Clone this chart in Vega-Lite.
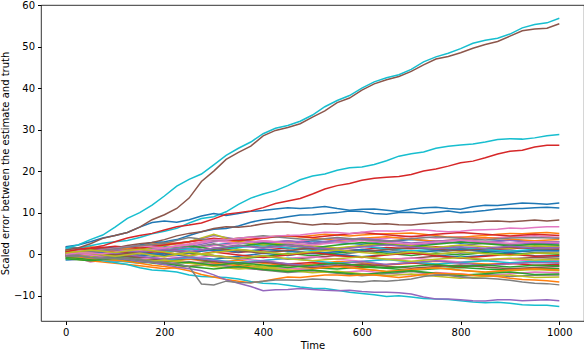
{
"$schema":"https://vega.github.io/schema/vega-lite/v6.json",
"width":543,"height":316,
"autosize":{"type":"none"},
"padding":{"left":41,"top":5,"right":0,"bottom":29},
"config":{"view":{"stroke":"#000","strokeWidth":0.8},"font":"DejaVu Sans"},
"data":{"values":[
{"s":0,"t":0,"v":0.5},{"s":0,"t":50,"v":0.8},{"s":0,"t":100,"v":0.3},{"s":0,"t":150,"v":1.2},{"s":0,"t":200,"v":1.8},{"s":0,"t":250,"v":1.0},{"s":0,"t":300,"v":2.2},{"s":0,"t":350,"v":2.8},{"s":0,"t":400,"v":2.0},{"s":0,"t":450,"v":2.5},{"s":0,"t":500,"v":3.2},{"s":0,"t":550,"v":2.8},{"s":0,"t":600,"v":2.4},{"s":0,"t":650,"v":3.0},{"s":0,"t":700,"v":3.5},{"s":0,"t":750,"v":3.1},{"s":0,"t":800,"v":2.6},{"s":0,"t":850,"v":3.0},{"s":0,"t":900,"v":3.4},{"s":0,"t":950,"v":2.9},{"s":0,"t":1000,"v":3.0},
{"s":1,"t":0,"v":-0.3},{"s":1,"t":50,"v":-0.8},{"s":1,"t":100,"v":-0.2},{"s":1,"t":150,"v":-1.0},{"s":1,"t":200,"v":-1.8},{"s":1,"t":250,"v":-1.2},{"s":1,"t":300,"v":-2.0},{"s":1,"t":350,"v":-1.5},{"s":1,"t":400,"v":-2.2},{"s":1,"t":450,"v":-2.8},{"s":1,"t":500,"v":-2.4},{"s":1,"t":550,"v":-1.8},{"s":1,"t":600,"v":-2.1},{"s":1,"t":650,"v":-2.6},{"s":1,"t":700,"v":-2.2},{"s":1,"t":750,"v":-1.7},{"s":1,"t":800,"v":-2.0},{"s":1,"t":850,"v":-2.4},{"s":1,"t":900,"v":-2.3},{"s":1,"t":950,"v":-1.9},{"s":1,"t":1000,"v":-2.0},
{"s":2,"t":0,"v":0.2},{"s":2,"t":50,"v":-0.5},{"s":2,"t":100,"v":-1.0},{"s":2,"t":150,"v":-0.6},{"s":2,"t":200,"v":-1.5},{"s":2,"t":250,"v":-2.2},{"s":2,"t":300,"v":-1.8},{"s":2,"t":350,"v":-2.5},{"s":2,"t":400,"v":-3.0},{"s":2,"t":450,"v":-2.7},{"s":2,"t":500,"v":-3.3},{"s":2,"t":550,"v":-3.6},{"s":2,"t":600,"v":-3.1},{"s":2,"t":650,"v":-3.4},{"s":2,"t":700,"v":-3.9},{"s":2,"t":750,"v":-3.5},{"s":2,"t":800,"v":-3.2},{"s":2,"t":850,"v":-3.6},{"s":2,"t":900,"v":-3.8},{"s":2,"t":950,"v":-3.4},{"s":2,"t":1000,"v":-3.5},
{"s":3,"t":0,"v":-0.5},{"s":3,"t":50,"v":0.2},{"s":3,"t":100,"v":0.6},{"s":3,"t":150,"v":0.1},{"s":3,"t":200,"v":0.8},{"s":3,"t":250,"v":1.3},{"s":3,"t":300,"v":0.9},{"s":3,"t":350,"v":0.4},{"s":3,"t":400,"v":1.0},{"s":3,"t":450,"v":1.5},{"s":3,"t":500,"v":1.2},{"s":3,"t":550,"v":0.7},{"s":3,"t":600,"v":1.1},{"s":3,"t":650,"v":1.6},{"s":3,"t":700,"v":1.3},{"s":3,"t":750,"v":1.8},{"s":3,"t":800,"v":1.4},{"s":3,"t":850,"v":1.0},{"s":3,"t":900,"v":1.3},{"s":3,"t":950,"v":1.7},{"s":3,"t":1000,"v":1.5},
{"s":4,"t":0,"v":1.0},{"s":4,"t":50,"v":1.4},{"s":4,"t":100,"v":0.8},{"s":4,"t":150,"v":1.6},{"s":4,"t":200,"v":2.4},{"s":4,"t":250,"v":3.0},{"s":4,"t":300,"v":4.5},{"s":4,"t":350,"v":3.5},{"s":4,"t":400,"v":2.8},{"s":4,"t":450,"v":3.2},{"s":4,"t":500,"v":2.5},{"s":4,"t":550,"v":2.9},{"s":4,"t":600,"v":3.4},{"s":4,"t":650,"v":2.8},{"s":4,"t":700,"v":2.2},{"s":4,"t":750,"v":2.6},{"s":4,"t":800,"v":3.0},{"s":4,"t":850,"v":2.7},{"s":4,"t":900,"v":2.3},{"s":4,"t":950,"v":2.6},{"s":4,"t":1000,"v":2.5},
{"s":5,"t":0,"v":0.8},{"s":5,"t":50,"v":0.3},{"s":5,"t":100,"v":0.9},{"s":5,"t":150,"v":0.4},{"s":5,"t":200,"v":-0.2},{"s":5,"t":250,"v":0.5},{"s":5,"t":300,"v":-0.3},{"s":5,"t":350,"v":-0.9},{"s":5,"t":400,"v":-0.4},{"s":5,"t":450,"v":-1.2},{"s":5,"t":500,"v":-0.8},{"s":5,"t":550,"v":-0.3},{"s":5,"t":600,"v":-0.7},{"s":5,"t":650,"v":-1.3},{"s":5,"t":700,"v":-1.0},{"s":5,"t":750,"v":-0.5},{"s":5,"t":800,"v":-0.9},{"s":5,"t":850,"v":-1.4},{"s":5,"t":900,"v":-1.1},{"s":5,"t":950,"v":-0.8},{"s":5,"t":1000,"v":-1.0},
{"s":6,"t":0,"v":0.0},{"s":6,"t":50,"v":-1.9},{"s":6,"t":100,"v":-1.0},{"s":6,"t":150,"v":-0.5},{"s":6,"t":200,"v":0.4},{"s":6,"t":250,"v":1.2},{"s":6,"t":300,"v":2.0},{"s":6,"t":350,"v":2.6},{"s":6,"t":400,"v":3.2},{"s":6,"t":450,"v":2.8},{"s":6,"t":500,"v":3.5},{"s":6,"t":550,"v":3.9},{"s":6,"t":600,"v":3.4},{"s":6,"t":650,"v":3.8},{"s":6,"t":700,"v":4.3},{"s":6,"t":750,"v":3.9},{"s":6,"t":800,"v":4.2},{"s":6,"t":850,"v":3.8},{"s":6,"t":900,"v":4.1},{"s":6,"t":950,"v":4.4},{"s":6,"t":1000,"v":4.0},
{"s":7,"t":0,"v":-0.8},{"s":7,"t":50,"v":-0.3},{"s":7,"t":100,"v":0.4},{"s":7,"t":150,"v":-0.2},{"s":7,"t":200,"v":0.6},{"s":7,"t":250,"v":1.5},{"s":7,"t":300,"v":2.5},{"s":7,"t":350,"v":1.2},{"s":7,"t":400,"v":0.5},{"s":7,"t":450,"v":1.0},{"s":7,"t":500,"v":0.3},{"s":7,"t":550,"v":-0.2},{"s":7,"t":600,"v":0.6},{"s":7,"t":650,"v":1.1},{"s":7,"t":700,"v":0.4},{"s":7,"t":750,"v":0.9},{"s":7,"t":800,"v":0.2},{"s":7,"t":850,"v":0.7},{"s":7,"t":900,"v":1.0},{"s":7,"t":950,"v":0.4},{"s":7,"t":1000,"v":0.5},
{"s":8,"t":0,"v":0.4},{"s":8,"t":50,"v":0.0},{"s":8,"t":100,"v":-0.8},{"s":8,"t":150,"v":-1.5},{"s":8,"t":200,"v":-1.0},{"s":8,"t":250,"v":-2.0},{"s":8,"t":300,"v":-2.8},{"s":8,"t":350,"v":-2.2},{"s":8,"t":400,"v":-3.0},{"s":8,"t":450,"v":-3.6},{"s":8,"t":500,"v":-3.2},{"s":8,"t":550,"v":-2.8},{"s":8,"t":600,"v":-3.5},{"s":8,"t":650,"v":-4.2},{"s":8,"t":700,"v":-3.8},{"s":8,"t":750,"v":-3.3},{"s":8,"t":800,"v":-3.9},{"s":8,"t":850,"v":-4.4},{"s":8,"t":900,"v":-4.0},{"s":8,"t":950,"v":-3.7},{"s":8,"t":1000,"v":-4.0},
{"s":9,"t":0,"v":1.5},{"s":9,"t":50,"v":1.0},{"s":9,"t":100,"v":1.8},{"s":9,"t":150,"v":1.2},{"s":9,"t":200,"v":0.5},{"s":9,"t":250,"v":1.3},{"s":9,"t":300,"v":0.8},{"s":9,"t":350,"v":1.6},{"s":9,"t":400,"v":2.1},{"s":9,"t":450,"v":1.5},{"s":9,"t":500,"v":0.9},{"s":9,"t":550,"v":1.4},{"s":9,"t":600,"v":1.9},{"s":9,"t":650,"v":1.3},{"s":9,"t":700,"v":0.8},{"s":9,"t":750,"v":1.2},{"s":9,"t":800,"v":1.6},{"s":9,"t":850,"v":1.1},{"s":9,"t":900,"v":0.7},{"s":9,"t":950,"v":1.2},{"s":9,"t":1000,"v":1.0},
{"s":10,"t":0,"v":-1.2},{"s":10,"t":50,"v":-0.5},{"s":10,"t":100,"v":0.3},{"s":10,"t":150,"v":-0.4},{"s":10,"t":200,"v":0.2},{"s":10,"t":250,"v":-0.6},{"s":10,"t":300,"v":-1.2},{"s":10,"t":350,"v":-0.5},{"s":10,"t":400,"v":0.2},{"s":10,"t":450,"v":-0.3},{"s":10,"t":500,"v":0.5},{"s":10,"t":550,"v":0.0},{"s":10,"t":600,"v":-0.6},{"s":10,"t":650,"v":-0.1},{"s":10,"t":700,"v":0.4},{"s":10,"t":750,"v":-0.2},{"s":10,"t":800,"v":-0.7},{"s":10,"t":850,"v":-0.3},{"s":10,"t":900,"v":0.2},{"s":10,"t":950,"v":-0.4},{"s":10,"t":1000,"v":-0.5},
{"s":11,"t":0,"v":1.2},{"s":11,"t":50,"v":1.8},{"s":11,"t":100,"v":1.0},{"s":11,"t":150,"v":2.0},{"s":11,"t":200,"v":2.8},{"s":11,"t":250,"v":2.2},{"s":11,"t":300,"v":3.5},{"s":11,"t":350,"v":3.0},{"s":11,"t":400,"v":3.8},{"s":11,"t":450,"v":4.5},{"s":11,"t":500,"v":3.9},{"s":11,"t":550,"v":3.3},{"s":11,"t":600,"v":3.8},{"s":11,"t":650,"v":4.2},{"s":11,"t":700,"v":3.6},{"s":11,"t":750,"v":3.1},{"s":11,"t":800,"v":3.5},{"s":11,"t":850,"v":4.0},{"s":11,"t":900,"v":3.6},{"s":11,"t":950,"v":3.2},{"s":11,"t":1000,"v":3.5},
{"s":12,"t":0,"v":-0.2},{"s":12,"t":50,"v":0.4},{"s":12,"t":100,"v":-0.3},{"s":12,"t":150,"v":-1.0},{"s":12,"t":200,"v":-0.4},{"s":12,"t":250,"v":0.3},{"s":12,"t":300,"v":-0.5},{"s":12,"t":350,"v":-1.2},{"s":12,"t":400,"v":-0.6},{"s":12,"t":450,"v":0.2},{"s":12,"t":500,"v":-0.4},{"s":12,"t":550,"v":0.3},{"s":12,"t":600,"v":0.8},{"s":12,"t":650,"v":0.2},{"s":12,"t":700,"v":-0.3},{"s":12,"t":750,"v":0.3},{"s":12,"t":800,"v":-0.2},{"s":12,"t":850,"v":0.4},{"s":12,"t":900,"v":-0.1},{"s":12,"t":950,"v":0.3},{"s":12,"t":1000,"v":0.0},
{"s":13,"t":0,"v":0.3},{"s":13,"t":50,"v":-0.4},{"s":13,"t":100,"v":0.2},{"s":13,"t":150,"v":-0.6},{"s":13,"t":200,"v":-1.3},{"s":13,"t":250,"v":-0.8},{"s":13,"t":300,"v":-1.6},{"s":13,"t":350,"v":-2.2},{"s":13,"t":400,"v":-1.7},{"s":13,"t":450,"v":-2.4},{"s":13,"t":500,"v":-2.0},{"s":13,"t":550,"v":-2.6},{"s":13,"t":600,"v":-3.0},{"s":13,"t":650,"v":-2.5},{"s":13,"t":700,"v":-2.1},{"s":13,"t":750,"v":-2.7},{"s":13,"t":800,"v":-3.1},{"s":13,"t":850,"v":-2.6},{"s":13,"t":900,"v":-2.2},{"s":13,"t":950,"v":-2.7},{"s":13,"t":1000,"v":-2.5},
{"s":14,"t":0,"v":-0.6},{"s":14,"t":50,"v":0.1},{"s":14,"t":100,"v":0.8},{"s":14,"t":150,"v":1.5},{"s":14,"t":200,"v":0.9},{"s":14,"t":250,"v":1.8},{"s":14,"t":300,"v":3.0},{"s":14,"t":350,"v":3.6},{"s":14,"t":400,"v":2.5},{"s":14,"t":450,"v":3.2},{"s":14,"t":500,"v":2.7},{"s":14,"t":550,"v":3.4},{"s":14,"t":600,"v":3.8},{"s":14,"t":650,"v":3.3},{"s":14,"t":700,"v":2.7},{"s":14,"t":750,"v":3.1},{"s":14,"t":800,"v":3.5},{"s":14,"t":850,"v":2.9},{"s":14,"t":900,"v":3.3},{"s":14,"t":950,"v":2.8},{"s":14,"t":1000,"v":3.0},
{"s":15,"t":0,"v":1.0},{"s":15,"t":50,"v":0.4},{"s":15,"t":100,"v":-0.2},{"s":15,"t":150,"v":-0.8},{"s":15,"t":200,"v":-1.5},{"s":15,"t":250,"v":-1.0},{"s":15,"t":300,"v":-1.8},{"s":15,"t":350,"v":-2.3},{"s":15,"t":400,"v":-1.9},{"s":15,"t":450,"v":-2.6},{"s":15,"t":500,"v":-3.2},{"s":15,"t":550,"v":-2.8},{"s":15,"t":600,"v":-2.4},{"s":15,"t":650,"v":-2.9},{"s":15,"t":700,"v":-3.4},{"s":15,"t":750,"v":-3.0},{"s":15,"t":800,"v":-2.6},{"s":15,"t":850,"v":-3.1},{"s":15,"t":900,"v":-3.5},{"s":15,"t":950,"v":-3.2},{"s":15,"t":1000,"v":-3.0},
{"s":16,"t":0,"v":-1.5},{"s":16,"t":50,"v":-1.0},{"s":16,"t":100,"v":-1.8},{"s":16,"t":150,"v":-1.2},{"s":16,"t":200,"v":-0.5},{"s":16,"t":250,"v":-1.0},{"s":16,"t":300,"v":-0.4},{"s":16,"t":350,"v":-1.1},{"s":16,"t":400,"v":-1.6},{"s":16,"t":450,"v":-1.0},{"s":16,"t":500,"v":-0.6},{"s":16,"t":550,"v":-1.2},{"s":16,"t":600,"v":-1.7},{"s":16,"t":650,"v":-1.3},{"s":16,"t":700,"v":-0.9},{"s":16,"t":750,"v":-1.4},{"s":16,"t":800,"v":-1.9},{"s":16,"t":850,"v":-1.5},{"s":16,"t":900,"v":-1.2},{"s":16,"t":950,"v":-1.7},{"s":16,"t":1000,"v":-1.5},
{"s":17,"t":0,"v":0.6},{"s":17,"t":50,"v":1.2},{"s":17,"t":100,"v":0.7},{"s":17,"t":150,"v":1.5},{"s":17,"t":200,"v":1.0},{"s":17,"t":250,"v":0.3},{"s":17,"t":300,"v":1.4},{"s":17,"t":350,"v":2.2},{"s":17,"t":400,"v":1.6},{"s":17,"t":450,"v":2.4},{"s":17,"t":500,"v":1.8},{"s":17,"t":550,"v":1.3},{"s":17,"t":600,"v":1.9},{"s":17,"t":650,"v":2.5},{"s":17,"t":700,"v":2.0},{"s":17,"t":750,"v":1.5},{"s":17,"t":800,"v":2.1},{"s":17,"t":850,"v":2.6},{"s":17,"t":900,"v":2.2},{"s":17,"t":950,"v":1.8},{"s":17,"t":1000,"v":2.0},
{"s":18,"t":0,"v":-1.0},{"s":18,"t":50,"v":-0.4},{"s":18,"t":100,"v":0.5},{"s":18,"t":150,"v":1.2},{"s":18,"t":200,"v":2.0},{"s":18,"t":250,"v":3.0},{"s":18,"t":300,"v":4.8},{"s":18,"t":350,"v":3.0},{"s":18,"t":400,"v":2.2},{"s":18,"t":450,"v":2.8},{"s":18,"t":500,"v":2.0},{"s":18,"t":550,"v":1.5},{"s":18,"t":600,"v":2.1},{"s":18,"t":650,"v":2.6},{"s":18,"t":700,"v":2.0},{"s":18,"t":750,"v":1.6},{"s":18,"t":800,"v":2.2},{"s":18,"t":850,"v":1.8},{"s":18,"t":900,"v":1.4},{"s":18,"t":950,"v":2.0},{"s":18,"t":1000,"v":1.8},
{"s":19,"t":0,"v":-1.4},{"s":19,"t":50,"v":-1.0},{"s":19,"t":100,"v":-1.6},{"s":19,"t":150,"v":-2.2},{"s":19,"t":200,"v":-1.5},{"s":19,"t":250,"v":-0.8},{"s":19,"t":300,"v":-1.4},{"s":19,"t":350,"v":-2.0},{"s":19,"t":400,"v":-1.5},{"s":19,"t":450,"v":-1.0},{"s":19,"t":500,"v":-1.6},{"s":19,"t":550,"v":-2.2},{"s":19,"t":600,"v":-1.8},{"s":19,"t":650,"v":-1.3},{"s":19,"t":700,"v":-1.9},{"s":19,"t":750,"v":-2.4},{"s":19,"t":800,"v":-2.0},{"s":19,"t":850,"v":-1.6},{"s":19,"t":900,"v":-2.1},{"s":19,"t":950,"v":-1.7},{"s":19,"t":1000,"v":-1.8},
{"s":20,"t":0,"v":0.9},{"s":20,"t":50,"v":0.3},{"s":20,"t":100,"v":0.9},{"s":20,"t":150,"v":0.4},{"s":20,"t":200,"v":-0.3},{"s":20,"t":250,"v":0.4},{"s":20,"t":300,"v":1.0},{"s":20,"t":350,"v":0.5},{"s":20,"t":400,"v":1.2},{"s":20,"t":450,"v":0.7},{"s":20,"t":500,"v":0.1},{"s":20,"t":550,"v":0.6},{"s":20,"t":600,"v":1.1},{"s":20,"t":650,"v":0.6},{"s":20,"t":700,"v":0.2},{"s":20,"t":750,"v":0.8},{"s":20,"t":800,"v":1.2},{"s":20,"t":850,"v":0.7},{"s":20,"t":900,"v":0.4},{"s":20,"t":950,"v":0.9},{"s":20,"t":1000,"v":0.8},
{"s":21,"t":0,"v":-0.9},{"s":21,"t":50,"v":-1.6},{"s":21,"t":100,"v":-2.2},{"s":21,"t":150,"v":-2.8},{"s":21,"t":200,"v":-3.5},{"s":21,"t":250,"v":-2.9},{"s":21,"t":300,"v":-2.2},{"s":21,"t":350,"v":-2.8},{"s":21,"t":400,"v":-3.4},{"s":21,"t":450,"v":-4.0},{"s":21,"t":500,"v":-3.5},{"s":21,"t":550,"v":-3.0},{"s":21,"t":600,"v":-3.6},{"s":21,"t":650,"v":-4.2},{"s":21,"t":700,"v":-3.7},{"s":21,"t":750,"v":-3.3},{"s":21,"t":800,"v":-3.9},{"s":21,"t":850,"v":-4.3},{"s":21,"t":900,"v":-3.8},{"s":21,"t":950,"v":-3.5},{"s":21,"t":1000,"v":-3.8},
{"s":22,"t":0,"v":0.0},{"s":22,"t":50,"v":0.7},{"s":22,"t":100,"v":1.3},{"s":22,"t":150,"v":0.6},{"s":22,"t":200,"v":1.4},{"s":22,"t":250,"v":2.0},{"s":22,"t":300,"v":1.2},{"s":22,"t":350,"v":1.9},{"s":22,"t":400,"v":2.6},{"s":22,"t":450,"v":2.0},{"s":22,"t":500,"v":1.5},{"s":22,"t":550,"v":2.2},{"s":22,"t":600,"v":2.8},{"s":22,"t":650,"v":2.3},{"s":22,"t":700,"v":1.8},{"s":22,"t":750,"v":2.4},{"s":22,"t":800,"v":2.9},{"s":22,"t":850,"v":2.5},{"s":22,"t":900,"v":2.0},{"s":22,"t":950,"v":2.4},{"s":22,"t":1000,"v":2.2},
{"s":23,"t":0,"v":1.8},{"s":23,"t":50,"v":1.2},{"s":23,"t":100,"v":0.5},{"s":23,"t":150,"v":1.1},{"s":23,"t":200,"v":0.4},{"s":23,"t":250,"v":-0.3},{"s":23,"t":300,"v":0.5},{"s":23,"t":350,"v":-0.2},{"s":23,"t":400,"v":-0.8},{"s":23,"t":450,"v":-0.2},{"s":23,"t":500,"v":0.4},{"s":23,"t":550,"v":-0.3},{"s":23,"t":600,"v":-0.8},{"s":23,"t":650,"v":-0.2},{"s":23,"t":700,"v":0.3},{"s":23,"t":750,"v":-0.4},{"s":23,"t":800,"v":-0.9},{"s":23,"t":850,"v":-0.5},{"s":23,"t":900,"v":0.0},{"s":23,"t":950,"v":-0.5},{"s":23,"t":1000,"v":-0.3},
{"s":24,"t":0,"v":0.2},{"s":24,"t":50,"v":-0.3},{"s":24,"t":100,"v":0.3},{"s":24,"t":150,"v":-0.5},{"s":24,"t":200,"v":-1.2},{"s":24,"t":250,"v":-0.6},{"s":24,"t":300,"v":-1.5},{"s":24,"t":350,"v":-2.2},{"s":24,"t":400,"v":-1.6},{"s":24,"t":450,"v":-2.3},{"s":24,"t":500,"v":-2.9},{"s":24,"t":550,"v":-2.4},{"s":24,"t":600,"v":-1.8},{"s":24,"t":650,"v":-2.5},{"s":24,"t":700,"v":-2.0},{"s":24,"t":750,"v":-1.6},{"s":24,"t":800,"v":-2.2},{"s":24,"t":850,"v":-2.7},{"s":24,"t":900,"v":-2.3},{"s":24,"t":950,"v":-2.0},{"s":24,"t":1000,"v":-2.2},
{"s":25,"t":0,"v":-0.3},{"s":25,"t":50,"v":0.3},{"s":25,"t":100,"v":-0.2},{"s":25,"t":150,"v":0.5},{"s":25,"t":200,"v":1.2},{"s":25,"t":250,"v":0.6},{"s":25,"t":300,"v":1.4},{"s":25,"t":350,"v":0.8},{"s":25,"t":400,"v":0.2},{"s":25,"t":450,"v":0.9},{"s":25,"t":500,"v":1.5},{"s":25,"t":550,"v":1.0},{"s":25,"t":600,"v":0.5},{"s":25,"t":650,"v":1.1},{"s":25,"t":700,"v":1.6},{"s":25,"t":750,"v":1.2},{"s":25,"t":800,"v":0.8},{"s":25,"t":850,"v":1.3},{"s":25,"t":900,"v":1.7},{"s":25,"t":950,"v":1.3},{"s":25,"t":1000,"v":1.2},
{"s":26,"t":0,"v":0.5},{"s":26,"t":50,"v":-0.2},{"s":26,"t":100,"v":-0.9},{"s":26,"t":150,"v":-1.6},{"s":26,"t":200,"v":-2.3},{"s":26,"t":250,"v":-1.8},{"s":26,"t":300,"v":-2.5},{"s":26,"t":350,"v":-3.2},{"s":26,"t":400,"v":-3.8},{"s":26,"t":450,"v":-3.3},{"s":26,"t":500,"v":-3.9},{"s":26,"t":550,"v":-4.5},{"s":26,"t":600,"v":-4.0},{"s":26,"t":650,"v":-4.6},{"s":26,"t":700,"v":-5.0},{"s":26,"t":750,"v":-4.4},{"s":26,"t":800,"v":-4.8},{"s":26,"t":850,"v":-5.2},{"s":26,"t":900,"v":-4.7},{"s":26,"t":950,"v":-4.3},{"s":26,"t":1000,"v":-4.5},
{"s":27,"t":0,"v":-0.4},{"s":27,"t":50,"v":-1.0},{"s":27,"t":100,"v":-0.5},{"s":27,"t":150,"v":-1.3},{"s":27,"t":200,"v":-2.0},{"s":27,"t":250,"v":-3.0},{"s":27,"t":300,"v":-2.5},{"s":27,"t":350,"v":-3.2},{"s":27,"t":400,"v":-3.8},{"s":27,"t":450,"v":-4.4},{"s":27,"t":500,"v":-4.0},{"s":27,"t":550,"v":-4.6},{"s":27,"t":600,"v":-5.2},{"s":27,"t":650,"v":-4.7},{"s":27,"t":700,"v":-4.2},{"s":27,"t":750,"v":-4.8},{"s":27,"t":800,"v":-5.3},{"s":27,"t":850,"v":-4.9},{"s":27,"t":900,"v":-5.4},{"s":27,"t":950,"v":-5.1},{"s":27,"t":1000,"v":-5.0},
{"s":28,"t":0,"v":0.1},{"s":28,"t":50,"v":-0.6},{"s":28,"t":100,"v":-1.3},{"s":28,"t":150,"v":-2.0},{"s":28,"t":200,"v":-1.4},{"s":28,"t":250,"v":-2.2},{"s":28,"t":300,"v":-3.0},{"s":28,"t":350,"v":-3.6},{"s":28,"t":400,"v":-3.2},{"s":28,"t":450,"v":-3.9},{"s":28,"t":500,"v":-4.5},{"s":28,"t":550,"v":-4.1},{"s":28,"t":600,"v":-4.7},{"s":28,"t":650,"v":-5.2},{"s":28,"t":700,"v":-4.8},{"s":28,"t":750,"v":-5.3},{"s":28,"t":800,"v":-5.8},{"s":28,"t":850,"v":-5.4},{"s":28,"t":900,"v":-5.0},{"s":28,"t":950,"v":-5.6},{"s":28,"t":1000,"v":-5.5},
{"s":29,"t":0,"v":-1.0},{"s":29,"t":50,"v":-1.0},{"s":29,"t":100,"v":-2.0},{"s":29,"t":150,"v":-3.3},{"s":29,"t":200,"v":-4.0},{"s":29,"t":250,"v":-5.0},{"s":29,"t":300,"v":-5.5},{"s":29,"t":350,"v":-6.0},{"s":29,"t":400,"v":-7.0},{"s":29,"t":450,"v":-7.5},{"s":29,"t":500,"v":-8.2},{"s":29,"t":550,"v":-8.7},{"s":29,"t":600,"v":-9.5},{"s":29,"t":650,"v":-10.2},{"s":29,"t":700,"v":-10.3},{"s":29,"t":750,"v":-10.8},{"s":29,"t":800,"v":-11.2},{"s":29,"t":850,"v":-11.7},{"s":29,"t":900,"v":-11.8},{"s":29,"t":950,"v":-12.3},{"s":29,"t":1000,"v":-12.6},
{"s":30,"t":0,"v":1.0},{"s":30,"t":50,"v":1.2},{"s":30,"t":100,"v":1.5},{"s":30,"t":150,"v":2.2},{"s":30,"t":200,"v":3.0},{"s":30,"t":250,"v":4.5},{"s":30,"t":300,"v":6.0},{"s":30,"t":350,"v":6.8},{"s":30,"t":400,"v":8.3},{"s":30,"t":450,"v":9.0},{"s":30,"t":500,"v":9.5},{"s":30,"t":550,"v":10.0},{"s":30,"t":600,"v":10.3},{"s":30,"t":650,"v":9.6},{"s":30,"t":700,"v":10.1},{"s":30,"t":750,"v":10.1},{"s":30,"t":800,"v":10.0},{"s":30,"t":850,"v":10.5},{"s":30,"t":900,"v":11.0},{"s":30,"t":950,"v":11.2},{"s":30,"t":1000,"v":11.1},
{"s":31,"t":0,"v":0.3},{"s":31,"t":50,"v":0.6},{"s":31,"t":100,"v":1.0},{"s":31,"t":150,"v":1.8},{"s":31,"t":200,"v":2.5},{"s":31,"t":250,"v":3.0},{"s":31,"t":300,"v":3.5},{"s":31,"t":350,"v":3.8},{"s":31,"t":400,"v":4.0},{"s":31,"t":450,"v":4.3},{"s":31,"t":500,"v":4.5},{"s":31,"t":550,"v":4.6},{"s":31,"t":600,"v":4.6},{"s":31,"t":650,"v":4.9},{"s":31,"t":700,"v":5.1},{"s":31,"t":750,"v":4.5},{"s":31,"t":800,"v":4.0},{"s":31,"t":850,"v":4.5},{"s":31,"t":900,"v":5.0},{"s":31,"t":950,"v":5.1},{"s":31,"t":1000,"v":5.0},
{"s":32,"t":0,"v":-0.7},{"s":32,"t":50,"v":-1.3},{"s":32,"t":100,"v":-0.8},{"s":32,"t":150,"v":-1.6},{"s":32,"t":200,"v":-2.4},{"s":32,"t":250,"v":-3.0},{"s":32,"t":300,"v":-3.6},{"s":32,"t":350,"v":-3.0},{"s":32,"t":400,"v":-3.7},{"s":32,"t":450,"v":-4.2},{"s":32,"t":500,"v":-3.8},{"s":32,"t":550,"v":-4.4},{"s":32,"t":600,"v":-4.9},{"s":32,"t":650,"v":-4.4},{"s":32,"t":700,"v":-4.0},{"s":32,"t":750,"v":-4.6},{"s":32,"t":800,"v":-5.1},{"s":32,"t":850,"v":-4.7},{"s":32,"t":900,"v":-4.3},{"s":32,"t":950,"v":-4.9},{"s":32,"t":1000,"v":-4.8},
{"s":33,"t":0,"v":0.7},{"s":33,"t":50,"v":1.3},{"s":33,"t":100,"v":1.9},{"s":33,"t":150,"v":1.4},{"s":33,"t":200,"v":2.2},{"s":33,"t":250,"v":3.0},{"s":33,"t":300,"v":3.8},{"s":33,"t":350,"v":3.2},{"s":33,"t":400,"v":3.9},{"s":33,"t":450,"v":4.5},{"s":33,"t":500,"v":4.0},{"s":33,"t":550,"v":4.6},{"s":33,"t":600,"v":5.2},{"s":33,"t":650,"v":4.7},{"s":33,"t":700,"v":4.2},{"s":33,"t":750,"v":4.8},{"s":33,"t":800,"v":5.2},{"s":33,"t":850,"v":4.8},{"s":33,"t":900,"v":4.4},{"s":33,"t":950,"v":4.8},{"s":33,"t":1000,"v":4.5},
{"s":34,"t":0,"v":-0.2},{"s":34,"t":50,"v":0.5},{"s":34,"t":100,"v":1.1},{"s":34,"t":150,"v":0.5},{"s":34,"t":200,"v":1.2},{"s":34,"t":250,"v":0.6},{"s":34,"t":300,"v":1.4},{"s":34,"t":350,"v":2.0},{"s":34,"t":400,"v":1.4},{"s":34,"t":450,"v":2.1},{"s":34,"t":500,"v":1.6},{"s":34,"t":550,"v":1.1},{"s":34,"t":600,"v":1.7},{"s":34,"t":650,"v":2.2},{"s":34,"t":700,"v":1.7},{"s":34,"t":750,"v":1.3},{"s":34,"t":800,"v":1.8},{"s":34,"t":850,"v":1.4},{"s":34,"t":900,"v":1.9},{"s":34,"t":950,"v":1.5},{"s":34,"t":1000,"v":1.6},
{"s":35,"t":0,"v":0.5},{"s":35,"t":50,"v":1.0},{"s":35,"t":100,"v":1.5},{"s":35,"t":150,"v":2.5},{"s":35,"t":200,"v":3.5},{"s":35,"t":250,"v":5.0},{"s":35,"t":300,"v":6.2},{"s":35,"t":350,"v":6.5},{"s":35,"t":400,"v":7.3},{"s":35,"t":450,"v":7.8},{"s":35,"t":500,"v":7.0},{"s":35,"t":550,"v":7.2},{"s":35,"t":600,"v":7.5},{"s":35,"t":650,"v":7.3},{"s":35,"t":700,"v":7.0},{"s":35,"t":750,"v":7.5},{"s":35,"t":800,"v":7.8},{"s":35,"t":850,"v":7.9},{"s":35,"t":900,"v":7.8},{"s":35,"t":950,"v":8.2},{"s":35,"t":1000,"v":8.2},
{"s":36,"t":0,"v":1.3},{"s":36,"t":50,"v":0.7},{"s":36,"t":100,"v":1.4},{"s":36,"t":150,"v":2.0},{"s":36,"t":200,"v":1.5},{"s":36,"t":250,"v":2.2},{"s":36,"t":300,"v":3.2},{"s":36,"t":350,"v":2.6},{"s":36,"t":400,"v":3.2},{"s":36,"t":450,"v":2.7},{"s":36,"t":500,"v":2.2},{"s":36,"t":550,"v":2.8},{"s":36,"t":600,"v":3.3},{"s":36,"t":650,"v":2.8},{"s":36,"t":700,"v":2.4},{"s":36,"t":750,"v":2.9},{"s":36,"t":800,"v":3.4},{"s":36,"t":850,"v":3.0},{"s":36,"t":900,"v":2.6},{"s":36,"t":950,"v":3.0},{"s":36,"t":1000,"v":2.8},
{"s":37,"t":0,"v":-0.1},{"s":37,"t":50,"v":0.6},{"s":37,"t":100,"v":1.3},{"s":37,"t":150,"v":2.0},{"s":37,"t":200,"v":2.6},{"s":37,"t":250,"v":4.0},{"s":37,"t":300,"v":3.2},{"s":37,"t":350,"v":3.8},{"s":37,"t":400,"v":4.4},{"s":37,"t":450,"v":3.9},{"s":37,"t":500,"v":3.4},{"s":37,"t":550,"v":4.0},{"s":37,"t":600,"v":3.5},{"s":37,"t":650,"v":3.1},{"s":37,"t":700,"v":3.7},{"s":37,"t":750,"v":4.2},{"s":37,"t":800,"v":3.8},{"s":37,"t":850,"v":3.4},{"s":37,"t":900,"v":3.9},{"s":37,"t":950,"v":4.0},{"s":37,"t":1000,"v":3.8},
{"s":38,"t":0,"v":0.9},{"s":38,"t":50,"v":0.2},{"s":38,"t":100,"v":-0.5},{"s":38,"t":150,"v":0.2},{"s":38,"t":200,"v":-0.6},{"s":38,"t":250,"v":0.5},{"s":38,"t":300,"v":-0.3},{"s":38,"t":350,"v":-1.0},{"s":38,"t":400,"v":-0.4},{"s":38,"t":450,"v":-1.1},{"s":38,"t":500,"v":-1.6},{"s":38,"t":550,"v":-1.1},{"s":38,"t":600,"v":-0.6},{"s":38,"t":650,"v":-1.2},{"s":38,"t":700,"v":-1.7},{"s":38,"t":750,"v":-1.2},{"s":38,"t":800,"v":-0.8},{"s":38,"t":850,"v":-1.3},{"s":38,"t":900,"v":-1.0},{"s":38,"t":950,"v":-1.4},{"s":38,"t":1000,"v":-1.2},
{"s":39,"t":0,"v":1.5},{"s":39,"t":50,"v":2.0},{"s":39,"t":100,"v":3.0},{"s":39,"t":150,"v":4.0},{"s":39,"t":200,"v":5.5},{"s":39,"t":250,"v":7.5},{"s":39,"t":300,"v":9.0},{"s":39,"t":350,"v":12.0},{"s":39,"t":400,"v":14.5},{"s":39,"t":450,"v":16.5},{"s":39,"t":500,"v":18.8},{"s":39,"t":550,"v":20.2},{"s":39,"t":600,"v":21.0},{"s":39,"t":650,"v":22.5},{"s":39,"t":700,"v":24.2},{"s":39,"t":750,"v":25.5},{"s":39,"t":800,"v":26.3},{"s":39,"t":850,"v":27.0},{"s":39,"t":900,"v":27.8},{"s":39,"t":950,"v":28.0},{"s":39,"t":1000,"v":28.8},
{"s":40,"t":0,"v":1.8},{"s":40,"t":50,"v":3.0},{"s":40,"t":100,"v":4.5},{"s":40,"t":150,"v":6.5},{"s":40,"t":200,"v":8.0},{"s":40,"t":250,"v":8.3},{"s":40,"t":300,"v":9.8},{"s":40,"t":350,"v":9.8},{"s":40,"t":400,"v":10.5},{"s":40,"t":450,"v":11.2},{"s":40,"t":500,"v":11.2},{"s":40,"t":550,"v":11.0},{"s":40,"t":600,"v":10.8},{"s":40,"t":650,"v":10.6},{"s":40,"t":700,"v":10.8},{"s":40,"t":750,"v":11.3},{"s":40,"t":800,"v":10.8},{"s":40,"t":850,"v":11.8},{"s":40,"t":900,"v":12.0},{"s":40,"t":950,"v":12.2},{"s":40,"t":1000,"v":12.3},
{"s":41,"t":0,"v":-0.5},{"s":41,"t":50,"v":-1.0},{"s":41,"t":100,"v":-1.5},{"s":41,"t":150,"v":-2.2},{"s":41,"t":200,"v":-3.0},{"s":41,"t":250,"v":-4.0},{"s":41,"t":300,"v":-5.5},{"s":41,"t":350,"v":-6.5},{"s":41,"t":400,"v":-6.5},{"s":41,"t":450,"v":-5.5},{"s":41,"t":500,"v":-5.3},{"s":41,"t":550,"v":-5.0},{"s":41,"t":600,"v":-5.0},{"s":41,"t":650,"v":-5.3},{"s":41,"t":700,"v":-5.3},{"s":41,"t":750,"v":-4.6},{"s":41,"t":800,"v":-4.8},{"s":41,"t":850,"v":-5.2},{"s":41,"t":900,"v":-5.8},{"s":41,"t":950,"v":-6.2},{"s":41,"t":1000,"v":-6.7},
{"s":42,"t":0,"v":-1.1},{"s":42,"t":50,"v":-1.6},{"s":42,"t":100,"v":-1.0},{"s":42,"t":150,"v":-1.8},{"s":42,"t":200,"v":-2.5},{"s":42,"t":250,"v":-1.9},{"s":42,"t":300,"v":-2.7},{"s":42,"t":350,"v":-2.1},{"s":42,"t":400,"v":-2.6},{"s":42,"t":450,"v":-3.2},{"s":42,"t":500,"v":-2.7},{"s":42,"t":550,"v":-2.2},{"s":42,"t":600,"v":-2.8},{"s":42,"t":650,"v":-3.3},{"s":42,"t":700,"v":-2.9},{"s":42,"t":750,"v":-2.5},{"s":42,"t":800,"v":-3.0},{"s":42,"t":850,"v":-2.6},{"s":42,"t":900,"v":-3.1},{"s":42,"t":950,"v":-2.7},{"s":42,"t":1000,"v":-2.8},
{"s":43,"t":0,"v":0.5},{"s":43,"t":50,"v":1.5},{"s":43,"t":100,"v":3.0},{"s":43,"t":150,"v":4.5},{"s":43,"t":200,"v":5.8},{"s":43,"t":250,"v":7.0},{"s":43,"t":300,"v":8.5},{"s":43,"t":350,"v":10.0},{"s":43,"t":400,"v":11.2},{"s":43,"t":450,"v":12.8},{"s":43,"t":500,"v":14.5},{"s":43,"t":550,"v":16.5},{"s":43,"t":600,"v":17.8},{"s":43,"t":650,"v":18.5},{"s":43,"t":700,"v":19.2},{"s":43,"t":750,"v":20.5},{"s":43,"t":800,"v":22.0},{"s":43,"t":850,"v":23.2},{"s":43,"t":900,"v":24.8},{"s":43,"t":950,"v":25.8},{"s":43,"t":1000,"v":26.2},
{"s":44,"t":0,"v":-0.5},{"s":44,"t":50,"v":-0.8},{"s":44,"t":100,"v":-1.0},{"s":44,"t":150,"v":-1.8},{"s":44,"t":200,"v":-2.5},{"s":44,"t":250,"v":-3.5},{"s":44,"t":300,"v":-5.0},{"s":44,"t":350,"v":-7.0},{"s":44,"t":400,"v":-8.8},{"s":44,"t":450,"v":-8.5},{"s":44,"t":500,"v":-8.5},{"s":44,"t":550,"v":-8.8},{"s":44,"t":600,"v":-9.0},{"s":44,"t":650,"v":-9.2},{"s":44,"t":700,"v":-9.6},{"s":44,"t":750,"v":-10.8},{"s":44,"t":800,"v":-11.0},{"s":44,"t":850,"v":-11.3},{"s":44,"t":900,"v":-11.0},{"s":44,"t":950,"v":-11.1},{"s":44,"t":1000,"v":-11.2},
{"s":45,"t":0,"v":1.0},{"s":45,"t":50,"v":2.5},{"s":45,"t":100,"v":4.5},{"s":45,"t":150,"v":6.5},{"s":45,"t":200,"v":9.5},{"s":45,"t":250,"v":13.5},{"s":45,"t":300,"v":20.0},{"s":45,"t":350,"v":24.5},{"s":45,"t":400,"v":28.5},{"s":45,"t":450,"v":30.5},{"s":45,"t":500,"v":33.0},{"s":45,"t":550,"v":36.5},{"s":45,"t":600,"v":39.5},{"s":45,"t":650,"v":42.0},{"s":45,"t":700,"v":44.0},{"s":45,"t":750,"v":47.0},{"s":45,"t":800,"v":48.5},{"s":45,"t":850,"v":50.5},{"s":45,"t":900,"v":52.5},{"s":45,"t":950,"v":54.2},{"s":45,"t":1000,"v":55.5},
{"s":46,"t":0,"v":0.0},{"s":46,"t":50,"v":0.3},{"s":46,"t":100,"v":0.5},{"s":46,"t":150,"v":1.0},{"s":46,"t":200,"v":1.5},{"s":46,"t":250,"v":2.5},{"s":46,"t":300,"v":3.5},{"s":46,"t":350,"v":3.8},{"s":46,"t":400,"v":4.0},{"s":46,"t":450,"v":4.5},{"s":46,"t":500,"v":5.0},{"s":46,"t":550,"v":5.2},{"s":46,"t":600,"v":5.3},{"s":46,"t":650,"v":5.6},{"s":46,"t":700,"v":5.8},{"s":46,"t":750,"v":5.6},{"s":46,"t":800,"v":5.5},{"s":46,"t":850,"v":5.9},{"s":46,"t":900,"v":6.3},{"s":46,"t":950,"v":6.4},{"s":46,"t":1000,"v":6.6},
{"s":47,"t":0,"v":-0.5},{"s":47,"t":50,"v":-0.8},{"s":47,"t":100,"v":-1.0},{"s":47,"t":150,"v":-1.5},{"s":47,"t":200,"v":-2.0},{"s":47,"t":250,"v":-3.0},{"s":47,"t":300,"v":-7.4},{"s":47,"t":350,"v":-6.8},{"s":47,"t":400,"v":-6.5},{"s":47,"t":450,"v":-6.2},{"s":47,"t":500,"v":-6.0},{"s":47,"t":550,"v":-6.3},{"s":47,"t":600,"v":-6.7},{"s":47,"t":650,"v":-6.5},{"s":47,"t":700,"v":-6.0},{"s":47,"t":750,"v":-5.0},{"s":47,"t":800,"v":-5.5},{"s":47,"t":850,"v":-5.8},{"s":47,"t":900,"v":-6.3},{"s":47,"t":950,"v":-7.0},{"s":47,"t":1000,"v":-7.4},
{"s":48,"t":0,"v":0.3},{"s":48,"t":50,"v":1.0},{"s":48,"t":100,"v":0.4},{"s":48,"t":150,"v":1.2},{"s":48,"t":200,"v":0.5},{"s":48,"t":250,"v":-0.4},{"s":48,"t":300,"v":0.4},{"s":48,"t":350,"v":1.1},{"s":48,"t":400,"v":0.5},{"s":48,"t":450,"v":0.0},{"s":48,"t":500,"v":0.6},{"s":48,"t":550,"v":1.0},{"s":48,"t":600,"v":0.4},{"s":48,"t":650,"v":-0.1},{"s":48,"t":700,"v":0.5},{"s":48,"t":750,"v":0.0},{"s":48,"t":800,"v":0.6},{"s":48,"t":850,"v":0.1},{"s":48,"t":900,"v":-0.3},{"s":48,"t":950,"v":0.2},{"s":48,"t":1000,"v":0.3},
{"s":49,"t":0,"v":1.5},{"s":49,"t":50,"v":3.5},{"s":49,"t":100,"v":6.5},{"s":49,"t":150,"v":10.0},{"s":49,"t":200,"v":14.0},{"s":49,"t":250,"v":18.0},{"s":49,"t":300,"v":21.5},{"s":49,"t":350,"v":25.5},{"s":49,"t":400,"v":29.0},{"s":49,"t":450,"v":31.0},{"s":49,"t":500,"v":33.5},{"s":49,"t":550,"v":37.0},{"s":49,"t":600,"v":40.0},{"s":49,"t":650,"v":42.5},{"s":49,"t":700,"v":44.5},{"s":49,"t":750,"v":47.5},{"s":49,"t":800,"v":49.5},{"s":49,"t":850,"v":51.5},{"s":49,"t":900,"v":53.0},{"s":49,"t":950,"v":55.3},{"s":49,"t":1000,"v":56.8},
{"s":49,"t":25,"v":2.2},{"s":49,"t":75,"v":4.6},{"s":49,"t":125,"v":8.6},{"s":49,"t":175,"v":11.8},{"s":49,"t":225,"v":16.4},{"s":49,"t":275,"v":19.3},{"s":49,"t":325,"v":23.8},{"s":49,"t":375,"v":27.0},{"s":49,"t":425,"v":30.3},{"s":49,"t":475,"v":32.0},{"s":49,"t":525,"v":35.5},{"s":49,"t":575,"v":38.2},{"s":49,"t":625,"v":41.5},{"s":49,"t":675,"v":43.2},{"s":49,"t":725,"v":46.3},{"s":49,"t":775,"v":48.4},{"s":49,"t":825,"v":50.8},{"s":49,"t":875,"v":52.0},{"s":49,"t":925,"v":54.5},{"s":49,"t":975,"v":55.7},
{"s":45,"t":25,"v":1.5},{"s":45,"t":75,"v":3.8},{"s":45,"t":125,"v":5.2},{"s":45,"t":175,"v":8.3},{"s":45,"t":225,"v":11.0},{"s":45,"t":275,"v":17.5},{"s":45,"t":325,"v":22.8},{"s":45,"t":375,"v":26.0},{"s":45,"t":425,"v":29.8},{"s":45,"t":475,"v":31.4},{"s":45,"t":525,"v":34.5},{"s":45,"t":575,"v":37.6},{"s":45,"t":625,"v":41.0},{"s":45,"t":675,"v":42.8},{"s":45,"t":725,"v":45.6},{"s":45,"t":775,"v":47.6},{"s":45,"t":825,"v":49.6},{"s":45,"t":875,"v":51.2},{"s":45,"t":925,"v":53.8},{"s":45,"t":975,"v":54.4},
{"s":39,"t":25,"v":1.4},{"s":39,"t":75,"v":2.6},{"s":39,"t":125,"v":3.3},{"s":39,"t":175,"v":4.9},{"s":39,"t":225,"v":6.2},{"s":39,"t":275,"v":8.6},{"s":39,"t":325,"v":10.2},{"s":39,"t":375,"v":13.5},{"s":39,"t":425,"v":15.3},{"s":39,"t":475,"v":17.9},{"s":39,"t":525,"v":19.3},{"s":39,"t":575,"v":20.8},{"s":39,"t":625,"v":21.6},{"s":39,"t":675,"v":23.6},{"s":39,"t":725,"v":24.6},{"s":39,"t":775,"v":26.0},{"s":39,"t":825,"v":26.5},{"s":39,"t":875,"v":27.6},{"s":39,"t":925,"v":27.7},{"s":39,"t":975,"v":28.5},
{"s":43,"t":25,"v":1.2},{"s":43,"t":75,"v":2.0},{"s":43,"t":125,"v":3.9},{"s":43,"t":175,"v":5.0},{"s":43,"t":225,"v":6.6},{"s":43,"t":275,"v":7.5},{"s":43,"t":325,"v":9.6},{"s":43,"t":375,"v":10.4},{"s":43,"t":425,"v":12.2},{"s":43,"t":475,"v":13.4},{"s":43,"t":525,"v":15.7},{"s":43,"t":575,"v":17.0},{"s":43,"t":625,"v":18.3},{"s":43,"t":675,"v":18.7},{"s":43,"t":725,"v":20.0},{"s":43,"t":775,"v":21.2},{"s":43,"t":825,"v":22.4},{"s":43,"t":875,"v":24.1},{"s":43,"t":925,"v":25.0},{"s":43,"t":975,"v":26.2},
{"s":40,"t":25,"v":2.2},{"s":40,"t":75,"v":3.9},{"s":40,"t":125,"v":5.2},{"s":40,"t":175,"v":7.6},{"s":40,"t":225,"v":7.7},{"s":40,"t":275,"v":9.2},{"s":40,"t":325,"v":9.3},{"s":40,"t":375,"v":10.3},{"s":40,"t":425,"v":10.9},{"s":40,"t":475,"v":11.0},{"s":40,"t":525,"v":11.5},{"s":40,"t":575,"v":10.6},{"s":40,"t":625,"v":10.9},{"s":40,"t":675,"v":10.3},{"s":40,"t":725,"v":11.2},{"s":40,"t":775,"v":11.0},{"s":40,"t":825,"v":11.4},{"s":40,"t":875,"v":11.7},{"s":40,"t":925,"v":12.3},{"s":40,"t":975,"v":12.0},
{"s":30,"t":25,"v":0.8},{"s":30,"t":75,"v":1.6},{"s":30,"t":125,"v":1.7},{"s":30,"t":175,"v":2.8},{"s":30,"t":225,"v":3.5},{"s":30,"t":275,"v":5.4},{"s":30,"t":325,"v":6.2},{"s":30,"t":375,"v":7.7},{"s":30,"t":425,"v":8.5},{"s":30,"t":475,"v":9.4},{"s":30,"t":525,"v":9.8},{"s":30,"t":575,"v":10.4},{"s":30,"t":625,"v":9.8},{"s":30,"t":675,"v":10.0},{"s":30,"t":725,"v":9.8},{"s":30,"t":775,"v":10.4},{"s":30,"t":825,"v":10.2},{"s":30,"t":875,"v":10.9},{"s":30,"t":925,"v":11.0},{"s":30,"t":975,"v":11.3},
{"s":35,"t":25,"v":0.9},{"s":35,"t":75,"v":1.1},{"s":35,"t":125,"v":2.1},{"s":35,"t":175,"v":2.8},{"s":35,"t":225,"v":4.4},{"s":35,"t":275,"v":5.4},{"s":35,"t":325,"v":6.6},{"s":35,"t":375,"v":6.8},{"s":35,"t":425,"v":7.7},{"s":35,"t":475,"v":7.3},{"s":35,"t":525,"v":7.3},{"s":35,"t":575,"v":7.5},{"s":35,"t":625,"v":7.2},{"s":35,"t":675,"v":7.1},{"s":35,"t":725,"v":7.3},{"s":35,"t":775,"v":7.7},{"s":35,"t":825,"v":7.6},{"s":35,"t":875,"v":8.0},{"s":35,"t":925,"v":8.0},{"s":35,"t":975,"v":8.0},
{"s":46,"t":25,"v":0.3},{"s":46,"t":75,"v":0.1},{"s":46,"t":125,"v":0.9},{"s":46,"t":175,"v":1.1},{"s":46,"t":225,"v":2.1},{"s":46,"t":275,"v":3.0},{"s":46,"t":325,"v":3.4},{"s":46,"t":375,"v":4.1},{"s":46,"t":425,"v":4.4},{"s":46,"t":475,"v":4.6},{"s":46,"t":525,"v":5.3},{"s":46,"t":575,"v":5.0},{"s":46,"t":625,"v":5.6},{"s":46,"t":675,"v":5.5},{"s":46,"t":725,"v":5.9},{"s":46,"t":775,"v":5.4},{"s":46,"t":825,"v":5.8},{"s":46,"t":875,"v":6.0},{"s":46,"t":925,"v":6.2},{"s":46,"t":975,"v":6.6},
{"s":31,"t":25,"v":0.2},{"s":31,"t":75,"v":0.9},{"s":31,"t":125,"v":1.3},{"s":31,"t":175,"v":2.3},{"s":31,"t":225,"v":2.6},{"s":31,"t":275,"v":3.4},{"s":31,"t":325,"v":3.5},{"s":31,"t":375,"v":4.0},{"s":31,"t":425,"v":4.3},{"s":31,"t":475,"v":4.2},{"s":31,"t":525,"v":4.8},{"s":31,"t":575,"v":4.4},{"s":31,"t":625,"v":4.8},{"s":31,"t":675,"v":5.0},{"s":31,"t":725,"v":4.8},{"s":31,"t":775,"v":4.1},{"s":31,"t":825,"v":4.3},{"s":31,"t":875,"v":4.8},{"s":31,"t":925,"v":4.9},{"s":31,"t":975,"v":5.2},
{"s":29,"t":25,"v":-0.7},{"s":29,"t":75,"v":-1.6},{"s":29,"t":125,"v":-2.5},{"s":29,"t":175,"v":-3.8},{"s":29,"t":225,"v":-4.3},{"s":29,"t":275,"v":-5.4},{"s":29,"t":325,"v":-5.6},{"s":29,"t":375,"v":-6.6},{"s":29,"t":425,"v":-7.1},{"s":29,"t":475,"v":-7.9},{"s":29,"t":525,"v":-8.3},{"s":29,"t":575,"v":-9.2},{"s":29,"t":625,"v":-9.8},{"s":29,"t":675,"v":-10.0},{"s":29,"t":725,"v":-10.7},{"s":29,"t":775,"v":-10.9},{"s":29,"t":825,"v":-11.5},{"s":29,"t":875,"v":-11.6},{"s":29,"t":925,"v":-12.2},{"s":29,"t":975,"v":-12.3},
{"s":44,"t":25,"v":-0.4},{"s":44,"t":75,"v":-1.0},{"s":44,"t":125,"v":-1.3},{"s":44,"t":175,"v":-2.0},{"s":44,"t":225,"v":-3.1},{"s":44,"t":275,"v":-4.0},{"s":44,"t":325,"v":-6.2},{"s":44,"t":375,"v":-7.8},{"s":44,"t":425,"v":-8.6},{"s":44,"t":475,"v":-8.3},{"s":44,"t":525,"v":-8.7},{"s":44,"t":575,"v":-8.7},{"s":44,"t":625,"v":-9.2},{"s":44,"t":675,"v":-9.3},{"s":44,"t":725,"v":-10.3},{"s":44,"t":775,"v":-10.8},{"s":44,"t":825,"v":-11.2},{"s":44,"t":875,"v":-11.0},{"s":44,"t":925,"v":-11.2},{"s":44,"t":975,"v":-11.0},
{"s":47,"t":25,"v":-0.4},{"s":47,"t":75,"v":-1.1},{"s":47,"t":125,"v":-1.1},{"s":47,"t":175,"v":-1.9},{"s":47,"t":225,"v":-2.3},{"s":47,"t":275,"v":-7.2},{"s":47,"t":325,"v":-6.5},{"s":47,"t":375,"v":-6.9},{"s":47,"t":425,"v":-6.2},{"s":47,"t":475,"v":-6.3},{"s":47,"t":525,"v":-6.1},{"s":47,"t":575,"v":-6.6},{"s":47,"t":625,"v":-6.4},{"s":47,"t":675,"v":-6.3},{"s":47,"t":725,"v":-5.4},{"s":47,"t":775,"v":-5.1},{"s":47,"t":825,"v":-5.8},{"s":47,"t":875,"v":-6.0},{"s":47,"t":925,"v":-6.7},{"s":47,"t":975,"v":-7.1},
{"s":41,"t":25,"v":-0.6},{"s":41,"t":75,"v":-1.3},{"s":41,"t":125,"v":-1.7},{"s":41,"t":175,"v":-2.7},{"s":41,"t":225,"v":-3.4},{"s":41,"t":275,"v":-4.9},{"s":41,"t":325,"v":-6.1},{"s":41,"t":375,"v":-6.9},{"s":41,"t":425,"v":-6.0},{"s":41,"t":475,"v":-5.6},{"s":41,"t":525,"v":-5.0},{"s":41,"t":575,"v":-5.2},{"s":41,"t":625,"v":-5.0},{"s":41,"t":675,"v":-5.6},{"s":41,"t":725,"v":-4.9},{"s":41,"t":775,"v":-4.7},{"s":41,"t":825,"v":-5.1},{"s":41,"t":875,"v":-5.4},{"s":41,"t":925,"v":-6.1},{"s":41,"t":975,"v":-6.4}
]},
"mark":{"type":"line","strokeWidth":1.5,"clip":true},
"encoding":{
"x":{"field":"t","type":"quantitative","title":"Time","scale":{"domain":[-50,1050],"nice":false,"zero":false},
"axis":{"values":[0,200,400,600,800,1000],"format":"d","grid":false,"domain":false,"tickColor":"#000","tickSize":3.5,"labelColor":"#000","labelFontSize":10,"labelPadding":3,"titleFontSize":10,"titleFontWeight":"normal","titleColor":"#000","titlePadding":3,"labelFont":"DejaVu Sans","titleFont":"DejaVu Sans"}},
"y":{"field":"v","type":"quantitative","title":"Scaled error between the estimate and truth","scale":{"domain":[-16.1,60],"nice":false,"zero":false},
"axis":{"values":[-10,0,10,20,30,40,50,60],"grid":false,"domain":false,"tickColor":"#000","tickSize":3.5,"labelColor":"#000","labelFontSize":10,"labelPadding":3,"titleFontSize":10,"titleFontWeight":"normal","titleColor":"#000","titlePadding":3,"labelFont":"DejaVu Sans","titleFont":"DejaVu Sans"}},
"color":{"field":"s","type":"nominal","scale":{"scheme":"category10"},"legend":null},
"order":{"field":"t","type":"quantitative"}
}
}
